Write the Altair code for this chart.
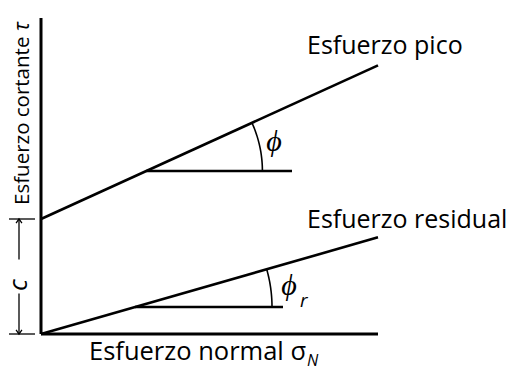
import numpy as np
import pandas as pd
import altair as alt

# Mohr-Coulomb style strength envelopes: peak and residual
sigma_max = 16.85          # extent of the normal-stress axis
tau_max = 15.8             # extent of the shear-stress axis
c = 5.75                   # cohesion intercept
phi_deg = 24.5             # peak friction angle
phi_r_deg = 16.0           # residual friction angle

# horizontal reference lines used to mark each angle
ref_start = [5.27, 4.7]
ref_end = [12.55, 12.1]
arc_radius = [5.8, 6.85]

W, H = 337, 316
FONT = "Open Sans"

xs = alt.Scale(domain=[0, sigma_max], nice=False, zero=False)
ys = alt.Scale(domain=[0, tau_max], nice=False, zero=False)
X = lambda f: alt.X(f, type="quantitative", scale=xs, axis=None)
Y = lambda f: alt.Y(f, type="quantitative", scale=ys, axis=None)

tan_p = np.tan(np.radians(phi_deg))
tan_r = np.tan(np.radians(phi_r_deg))

# envelopes
env = pd.DataFrame({
    "s0": [0.0, 0.0], "t0": [c, 0.0],
    "s1": [sigma_max, sigma_max], "t1": [c + tan_p * sigma_max, tan_r * sigma_max],
})
envelopes = alt.Chart(env).mark_rule(strokeWidth=2.6, color="black").encode(
    x=X("s0"), y=Y("t0"), x2="s1", y2="t1")

# axes
ax = pd.DataFrame({"s0": [0.0, 0.0], "t0": [0.0, 0.0], "s1": [0.0, sigma_max], "t1": [tau_max, 0.0]})
axes = alt.Chart(ax).mark_rule(strokeWidth=3, color="black").encode(
    x=X("s0"), y=Y("t0"), x2="s1", y2="t1")

# horizontal references
ref_tau = [c + tan_p * ref_start[0], tan_r * ref_start[1]]
refs = pd.DataFrame({"s0": ref_start, "s1": ref_end, "t": ref_tau})
ref_lines = alt.Chart(refs).mark_rule(strokeWidth=2.6, color="black").encode(
    x=X("s0"), x2="s1", y=Y("t"))

# angle arcs
rows = []
for k, (ang, s0, t0, r) in enumerate(zip([phi_deg, phi_r_deg], ref_start, ref_tau, arc_radius)):
    for i, a in enumerate(np.linspace(0, np.radians(ang), 25)):
        rows.append({"arc": k, "i": i, "s": s0 + r * np.cos(a), "t": t0 + r * np.sin(a)})
arcs = alt.Chart(pd.DataFrame(rows)).mark_line(strokeWidth=1.6, color="black").encode(
    x=X("s"), y=Y("t"), detail="arc:N", order="i:Q")

# cohesion dimension on the left
gap = 0.85
dim = pd.DataFrame({"t0": [c / 2 + gap, c / 2 - gap], "t1": [c, 0.0]})
dim_lines = alt.Chart(dim).mark_rule(strokeWidth=1.3, color="black").encode(
    x=alt.value(-22), y=Y("t0"), y2="t1")
ticks = alt.Chart(pd.DataFrame({"t": [c, 0.0]})).mark_rule(strokeWidth=1.3, color="black").encode(
    x=alt.value(-32), x2=alt.value(-6), y=Y("t"))
heads = alt.Chart(pd.DataFrame({"t": [c, 0.0], "dir": ["up", "down"]})).mark_point(
    filled=False, color="black", strokeWidth=1.3, size=70, opacity=1).encode(
    x=alt.value(-22), y=Y("t"),
    shape=alt.Shape("dir:N", scale=alt.Scale(domain=["up", "down"],
                    range=["M-0.7,1L0,0L0.7,1", "M-0.7,-1L0,0L0.7,-1"]), legend=None))

def label(txt, x, y, size, **kw):
    return alt.Chart(pd.DataFrame({"v": [txt]})).mark_text(
        font=FONT, fontSize=size, color="black", **kw).encode(
        text="v:N", x=alt.value(x), y=alt.value(y))

texts = [
    label("Esfuerzo pico", 266, 36, 25, align="left", baseline="alphabetic"),
    label("Esfuerzo residual", 266, 210, 25, align="left", baseline="alphabetic"),
    label("Esfuerzo normal σ", 48, 342, 25.5, align="left", baseline="alphabetic"),
    label("N", 266, 348, 16, align="left", baseline="alphabetic", fontStyle="italic"),
    label("Esfuerzo cortante", -12, 187, 20.5, align="left", baseline="alphabetic", angle=270),
    label("τ", -12, 13, 21, align="left", baseline="alphabetic", angle=270, fontStyle="italic"),
    label("c", -22, 267, 26, align="center", baseline="middle", angle=270, fontStyle="italic"),
    label("ϕ", 233, 124, 30, align="center", baseline="middle", fontStyle="italic"),
    label("ϕ", 248, 268, 30, align="center", baseline="middle", fontStyle="italic"),
    label("r", 259, 283, 19, align="left", baseline="middle", fontStyle="italic"),
]

chart = alt.layer(axes, envelopes, ref_lines, arcs, dim_lines, ticks, heads, *texts).properties(
    width=W, height=H,
    autosize=alt.AutoSizeParams(type="none"),
    padding={"left": 41, "top": 18, "right": 137, "bottom": 37},
    background="white",
).configure_view(stroke=None)

chart.save("out.html", embed_options={"renderer": "svg", "actions": False})
